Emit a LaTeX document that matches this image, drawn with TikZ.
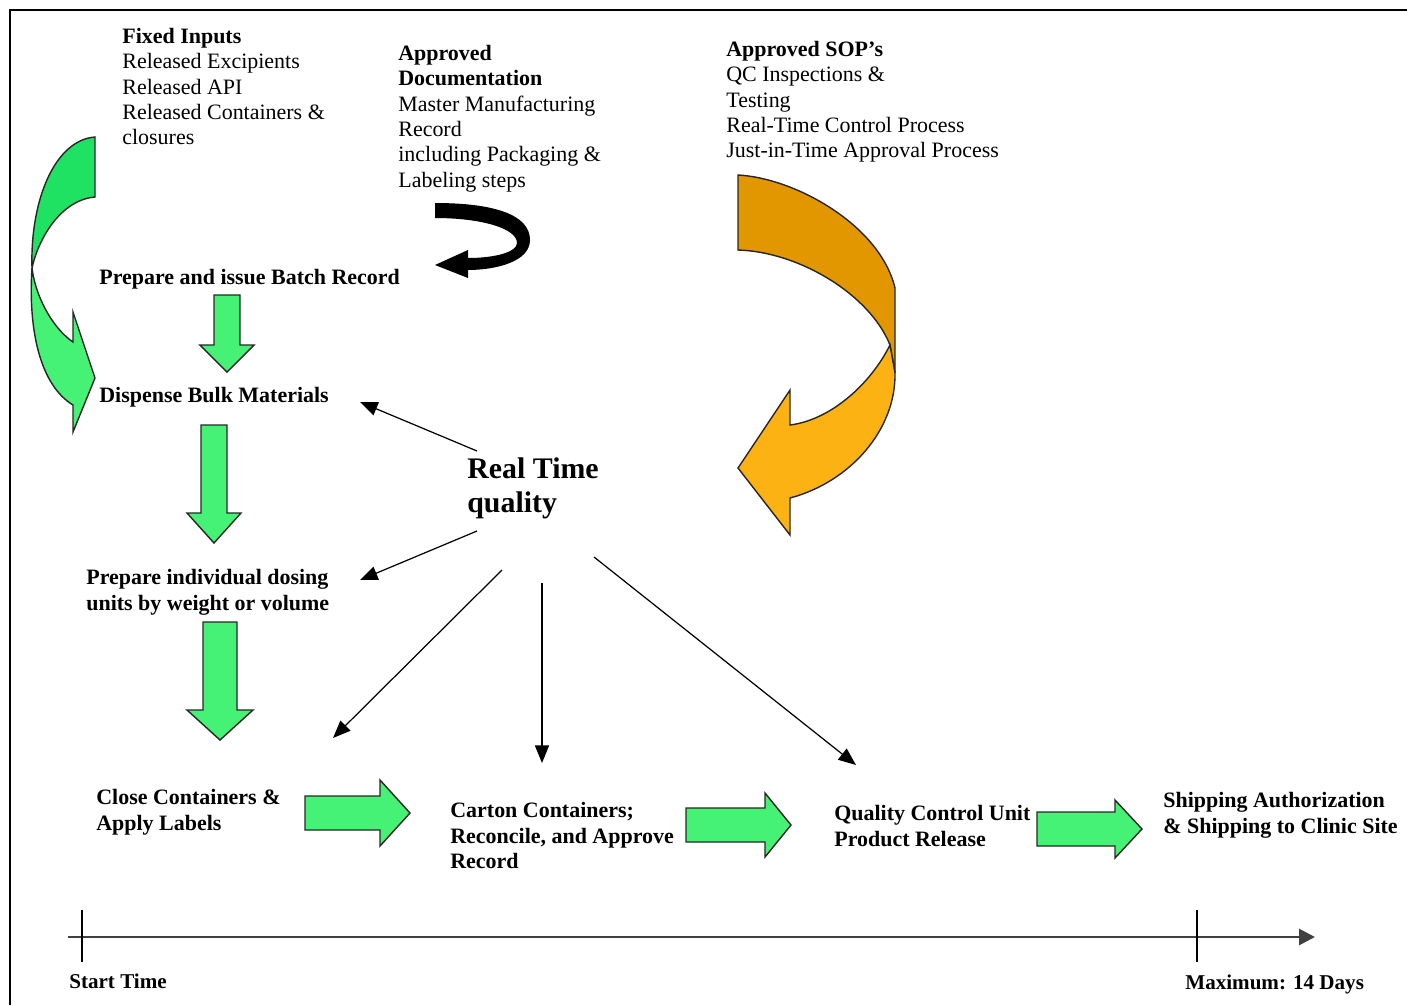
\documentclass[tikz,border=0pt]{standalone}
\usepackage{fontspec}
\setmainfont{Liberation Serif}
\usetikzlibrary{arrows.meta}

\definecolor{greenup}{RGB}{32,226,98}
\definecolor{greenlow}{RGB}{70,242,118}
\definecolor{orangeup}{RGB}{226,150,0}
\definecolor{orangelow}{RGB}{253,178,20}

% block arrows: centre, start, head base, tip, half shaft, half head
\newcommand{\blkdown}[6]{%
  \filldraw[blkarrow] ({#1-#5},#2) -- ({#1+#5},#2) -- ({#1+#5},#3) -- ({#1+#6},#3)
    -- (#1,#4) -- ({#1-#6},#3) -- ({#1-#5},#3) -- cycle;}
\newcommand{\blkright}[6]{%
  \filldraw[blkarrow] (#2,{#1-#5}) -- (#3,{#1-#5}) -- (#3,{#1-#6}) -- (#4,#1)
    -- (#3,{#1+#6}) -- (#3,{#1+#5}) -- (#2,{#1+#5}) -- cycle;}

\begin{document}
\begin{tikzpicture}[x=0.02cm,y=-0.02cm,>=Latex,
  lbl/.style={anchor=north west,inner sep=0pt,align=left,font=\fontsize{12.5}{14.4}\selectfont},
  steplbl/.style={lbl,font=\fontsize{12.5}{14.6}\selectfont\bfseries},
  blkarrow/.style={fill=greenlow,draw=black!85,line width=0.8pt},
  rtarrow/.style={-{Triangle[length=10pt,width=8pt]},line width=0.7pt}]
  \useasboundingbox (0,0) rectangle (1407,1005);
  \draw[line width=1pt] (10,1005) -- (10,10) -- (1407,10);

  % inputs
  \node[lbl] (fixin) at (122,28) {\textbf{Fixed Inputs}\\Released Excipients\\Released API\\Released Containers \&\\closures};
  \node[lbl] (appdoc) at (398,45) {\textbf{Approved}\\\textbf{Documentation}\\Master Manufacturing\\Record\\including Packaging \&\\Labeling steps};
  \node[lbl] (appsop) at (726,41) {\textbf{Approved SOP’s}\\QC Inspections \&\\Testing\\Real-Time Control Process\\Just-in-Time Approval Process};

  % process steps
  \node[steplbl] (batch) at (99,269) {Prepare and issue Batch Record};
  \node[steplbl] (dispense) at (99,387) {Dispense Bulk Materials};
  \node[steplbl] (dosing) at (86,569) {Prepare individual dosing\\units by weight or volume};
  \node[steplbl] (close) at (96,789) {Close Containers \&\\Apply Labels};
  \node[steplbl] (carton) at (450,802) {Carton Containers;\\Reconcile, and Approve\\Record};
  \node[steplbl] (qcu) at (834,805) {Quality Control Unit\\Product Release};
  \node[steplbl] (ship) at (1163,792) {Shipping Authorization\\\& Shipping to Clinic Site};
  \node[lbl,font=\fontsize{17}{19.8}\selectfont\bfseries] (rtq) at (467,457) {Real Time\\quality};

  % curved arrows
  \filldraw[fill=greenlow,draw=black!85,line width=0.8pt] (32,268) .. controls (36,300) and (55,330) .. (73,342)
    -- (73,312) -- (95,378) -- (73,432) -- (73,405) .. controls (40,385) and (28,330) .. (32,268) -- cycle;
  \filldraw[fill=greenup,draw=black!85,line width=0.8pt] (95,137) -- (95,197) .. controls (60,200) and (38,240) .. (32,268)
    .. controls (30,200) and (55,140) .. (95,137) -- cycle;
  \fill[black] (435,203) .. controls (495,203) and (530,215) .. (530,240) .. controls (530,262) and (495,270) .. (468,270)
    -- (468,278) -- (435,265) -- (468,250) -- (468,258) .. controls (495,258) and (517,252) .. (517,243)
    .. controls (517,228) and (480,218) .. (435,218) -- cycle;
  \filldraw[fill=orangeup,draw=black!85,line width=0.8pt] (738,175) .. controls (795,178) and (880,225) .. (895,288)
    -- (895,373) -- (890,345) .. controls (870,295) and (800,252) .. (738,250) -- cycle;
  \filldraw[fill=orangelow,draw=black!85,line width=0.8pt] (890,345) -- (895,373) .. controls (896,430) and (850,482) .. (790,498)
    -- (790,535) -- (738,468) -- (790,390) -- (790,425) .. controls (830,420) and (870,385) .. (890,345) -- cycle;

  % block arrows
  \blkdown{227}{295}{345}{372}{13}{27}
  \blkdown{214}{425}{513}{543}{13}{27}
  \blkdown{220}{622}{710}{740}{17}{33}
  \blkright{813}{305}{380}{410}{17}{33}
  \blkright{825}{686}{765}{791}{17}{32}
  \blkright{829}{1037}{1115}{1142}{17}{29}

  % real time quality links
  \coordinate (q1) at (477,451);
  \coordinate (q2) at (477,531);
  \coordinate (q3) at (502,570);
  \coordinate (q4) at (542,583);
  \coordinate (q5) at (594,557);
  \coordinate (e1) at (360,402);
  \coordinate (e2) at (360,580);
  \coordinate (e3) at (333,738);
  \coordinate (e4) at (542,763);
  \coordinate (e5) at (856,765);
  \foreach \i in {1,...,5}
    \draw[rtarrow] (q\i) -- (e\i);

  % time line
  \coordinate (t0) at (68,937);
  \coordinate (t1) at (1315,937);
  \draw[line width=1.6pt,black!75,-{Triangle[length=9pt,width=9pt]}] (t0) -- (t1);
  \draw[line width=0.7pt] (82,910) -- (82,962);
  \draw[line width=0.7pt] (1197,910) -- (1197,962);
  \node[steplbl,font=\fontsize{12}{14}\selectfont\bfseries] (start) at (69,974) {Start Time};
  \node[steplbl,font=\fontsize{12}{14}\selectfont\bfseries] (maxd) at (1185,975) {Maximum: 14 Days};
\end{tikzpicture}
\end{document}
